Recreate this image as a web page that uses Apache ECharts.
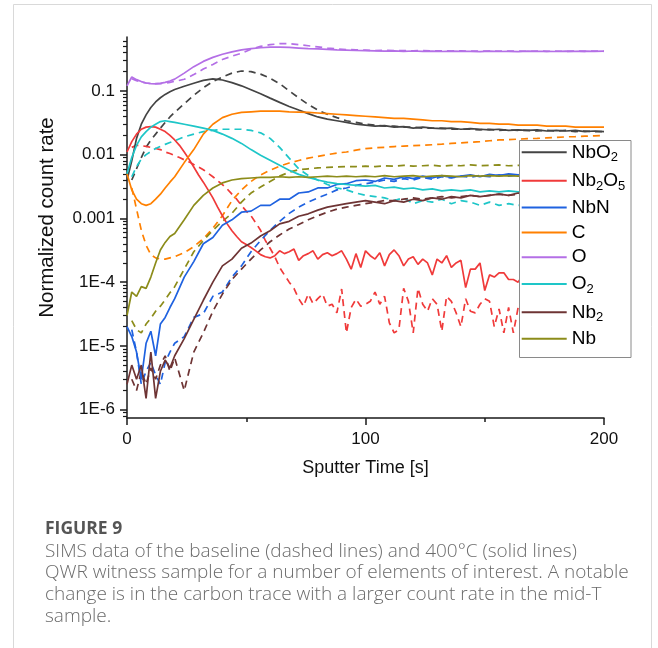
<!DOCTYPE html>
<html><head><meta charset="utf-8">
<script src="https://cdn.jsdelivr.net/npm/echarts@6/dist/echarts.min.js"></script>
<style>html,body{margin:0;padding:0;background:#fff}#c{width:658px;height:648px}</style>
</head><body><div id="c"></div>
<script>
// ---------- DATA ----------
const time = [0,2,4,6,8,10,12,14,16,18,20,24,28,32,36,40,44,48,52,56,60,64,68,72,76,80,84,88,92,96,100,104,108,112,116,120,124,128,132,136,140,144,148,152,156,160,164,168,172,176,180,184,188,192,196,200];
const timeRed = [0,2,4,6,8,10,12,14,16,18,20,22,24,26,28,30,32,34,36,38,40,42,44,46,48,50,52,54,56,58,60,62,64,66,68,70,72,74,76,78,80,82,84,86,88,90,92,94,96,98,100,102,104,106,108,110,112,114,116,118,120,122,124,126,128,130,132,134,136,138,140,142,144,146,148,150,152,154,156,158,160,162,164,166,168,170,172,174,176,178,180,182,184,186,188,190,192,194,196,198,200];

const names = ['NbO2','Nb2O5','NbN','C','O','O2','Nb2','Nb'];
const colors = ['#444444','#f03a3a','#1f62e0','#ff8000','#b46fe6','#1ec6c8','#6e3434','#8c8c1a'];
const xTickLabels = ['0','100','200'];
const yTickValues = [1e-6,1e-5,1e-4,1e-3,1e-2,1e-1];
const yTickLabels = ['1E-6','1E-5','1E-4','0.001','0.01','0.1'];

// 400 C sample (solid)
const nbo2Solid = [0.004,0.008,0.018,0.03,0.042,0.055,0.067,0.078,0.088,0.097,0.105,
 0.118,0.132,0.146,0.154,0.148, 0.135,0.12,0.104,0.09,0.077, 0.066,0.057,0.05,0.044,0.039,
 0.036,0.034,0.032,0.03,0.029, 0.028,0.0285,0.027,0.0275,0.026, 0.027,0.026,0.0255,0.026,0.025,
 0.0255,0.025,0.0245,0.025,0.024, 0.0245,0.024,0.0245,0.0235,0.024, 0.0235,0.024,0.023,0.0235,0.023];
const nbnSolid = [2e-5,1.4e-5,8e-6,3e-6,1.1e-5,1.7e-5,7e-6,2.2e-5,2.8e-5,4e-5,5.5e-5,
 1.2e-4,2.1e-4,4e-4,5e-4,7.8e-4, 9.5e-4,0.00125,0.0013,0.0016,0.0016, 0.002,0.002,0.0025,0.0026,0.003,
 0.003,0.0034,0.0035,0.0039,0.004, 0.0038,0.0043,0.0041,0.0045,0.0042, 0.0046,0.0043,0.0047,0.0044,0.0046,
 0.0048,0.0045,0.0049,0.0047,0.005, 0.0048,0.005,0.0049,0.0051,0.005, 0.0049,0.0051,0.005,0.005,0.0052];
const cSolid = [0.005,0.0028,0.002,0.0017,0.0016,0.0017,0.002,0.0024,0.003,0.0037,0.0045,
 0.0075,0.012,0.021,0.03,0.038, 0.043,0.046,0.047,0.048,0.048, 0.048,0.047,0.0465,0.046,0.045,
 0.044,0.043,0.042,0.041,0.04, 0.039,0.038,0.037,0.037,0.036, 0.035,0.034,0.034,0.033,0.033,
 0.032,0.031,0.031,0.03,0.03, 0.029,0.029,0.029,0.028,0.028, 0.028,0.027,0.027,0.027,0.027];
const oSolid = [0.12,0.165,0.15,0.14,0.133,0.13,0.129,0.131,0.136,0.143,0.153,
 0.19,0.24,0.29,0.335,0.375, 0.41,0.44,0.46,0.475,0.485, 0.485,0.48,0.47,0.46,0.455,
 0.447,0.44,0.435,0.43,0.428, 0.425,0.42,0.425,0.418,0.422, 0.416,0.42,0.415,0.42,0.416,
 0.418,0.414,0.42,0.415,0.418, 0.414,0.42,0.416,0.418,0.415, 0.42,0.417,0.42,0.418,0.42];
const o2Solid = [0.005,0.009,0.014,0.019,0.023,0.027,0.03,0.033,0.034,0.033,0.032,
 0.03,0.028,0.026,0.024,0.021, 0.018,0.015,0.012,0.0098,0.0082, 0.0068,0.0057,0.0049,0.0044,0.004,
 0.0037,0.0035,0.0034,0.0033,0.0032, 0.0033,0.003,0.0031,0.0029,0.003, 0.0028,0.0029,0.0027,0.0028,0.0027,
 0.0028,0.0026,0.0027,0.0026,0.0027, 0.0026,0.0027,0.0026,0.0027,0.0026, 0.0027,0.0026,0.0027,0.0026,0.0026];
const nb2Solid = [2.5e-6,5e-6,3e-6,5e-6,1.5e-6,8e-6,1.5e-6,4e-6,6e-6,4.5e-6,7e-6,
 1.3e-5,2.6e-5,5.2e-5,1e-4,1.8e-4, 2.3e-4,3.4e-4,4.1e-4,5.3e-4,6.4e-4, 8.2e-4,9e-4,0.00108,0.00118,0.00135,
 0.0015,0.0016,0.0017,0.0018,0.0019, 0.0018,0.0017,0.0019,0.0018,0.002, 0.0019,0.0021,0.002,0.0022,0.0021,
 0.0023,0.0022,0.0023,0.0024,0.0023, 0.0025,0.0024,0.0025,0.0024,0.0025, 0.0026,0.0025,0.0026,0.0025,0.0026];
const nbSolid = [3e-5,7e-5,6e-5,8.5e-5,8e-5,1.2e-4,2e-4,3.2e-4,4.2e-4,5.2e-4,5.8e-4,
 9.5e-4,0.0016,0.0023,0.003,0.0036, 0.004,0.0042,0.0043,0.0044,0.0044, 0.0045,0.0044,0.0045,0.0044,0.0045,
 0.0046,0.0045,0.0046,0.0045,0.0046, 0.0045,0.0047,0.0045,0.0046,0.0047, 0.0045,0.0046,0.0047,0.0046,0.0045,
 0.0047,0.0046,0.0047,0.0046,0.0047, 0.0046,0.0047,0.0046,0.0047,0.0046, 0.0047,0.0046,0.0047,0.0046,0.0047];
const nb2o5Solid = [0.011,0.016,0.021,0.025,0.027,0.0275,0.027,0.025,0.023,0.02,
 0.017,0.014,0.011,0.0085,0.0064,0.0048,0.0037,0.0028,0.0021,0.0015,
 0.0011,8.2e-4,6.4e-4,5.2e-4,4.3e-4,3.9e-4,3.5e-4,3.1e-4,2.7e-4,2.5e-4,
 2.4e-4,2.6e-4,3.1e-4,2.8e-4,3.0e-4,3.3e-4,2.2e-4,2.6e-4,2.8e-4,3.1e-4,
 2.3e-4,2.7e-4,2.9e-4,2.6e-4,2.8e-4,3.1e-4,2.3e-4,1.6e-4,2.8e-4,1.7e-4,
 3.1e-4,2.6e-4,2.3e-4,2.9e-4,1.8e-4,2.7e-4,3.2e-4,2.6e-4,1.8e-4,2.3e-4,
 2.5e-4,1.9e-4,2.3e-4,2.0e-4,1.3e-4,2.3e-4,2.0e-4,2.6e-4,1.7e-4,2.0e-4,
 2.2e-4,8.2e-5,1.6e-4,1.6e-4,2.0e-4,7.4e-5,1.3e-4,1.2e-4,1.4e-4,1.4e-4,
 1.1e-4,1.1e-4,1.0e-4,1.3e-4,1.5e-4,1.1e-4,1.0e-4,1.4e-4,1.6e-4,1.2e-4,
 1.1e-4,1.4e-4,1.3e-4,9e-5,1.2e-4,1.4e-4,1.3e-4,1.0e-4,1.2e-4,1.3e-4,
 1.2e-4];

// baseline sample (dashed)
const nbo2Base = [null,0.004,0.006,0.009,0.013,0.017,0.021,0.026,0.032,0.039,0.046,
 0.063,0.085,0.112,0.14,0.165, 0.19,0.205,0.2,0.183,0.158, 0.13,0.1,0.078,0.061,0.05,
 0.043,0.038,0.034,0.032,0.03, 0.029,0.028,0.028,0.027,0.027, 0.026,0.026,0.026,0.025,0.025,
 0.025,0.0245,0.025,0.024,0.0245, 0.024,0.024,0.0235,0.024,0.0235, 0.024,0.023,0.0235,0.023,0.023];
const nbnBase = [null,1.8e-5,8e-6,2.5e-6,4e-6,5.5e-6,3.5e-6,2.5e-6,5.5e-6,8e-6,1.1e-5,
 1.4e-5,2.8e-5,3.2e-5,6e-5,7e-5, 1.2e-4,1.8e-4,3e-4,4.5e-4,6.5e-4, 9e-4,0.0012,0.0015,0.0018,0.0021,
 0.0024,0.0028,0.003,0.0033,0.0035, 0.0037,0.004,0.0038,0.0042,0.004, 0.0044,0.0041,0.0045,0.0043,0.0046,
 0.0044,0.0047,0.0045,0.0048,0.0046, 0.0048,0.0047,0.0049,0.0048,0.005, 0.0048,0.005,0.0049,0.005,0.0049];
const cBase = [null,0.003,0.0014,6.5e-4,3.8e-4,2.7e-4,2.4e-4,2.3e-4,2.3e-4,2.4e-4,2.5e-4,
 2.9e-4,3.6e-4,4.8e-4,7e-4,0.0011, 0.0019,0.0028,0.0038,0.0048,0.0057, 0.0066,0.0074,0.0081,0.0088,0.0094,
 0.01,0.0106,0.011,0.0118,0.0124, 0.0128,0.013,0.0134,0.0136,0.0138, 0.014,0.0143,0.0146,0.015,0.0153,
 0.0156,0.016,0.0165,0.017,0.0172, 0.0175,0.0178,0.018,0.0183,0.0186, 0.019,0.0192,0.0195,0.0197,0.02];
const oBase = [null,0.155,0.145,0.138,0.133,0.13,0.13,0.13,0.132,0.136,0.141,
 0.152,0.18,0.22,0.26,0.31, 0.35,0.39,0.45,0.5,0.53, 0.55,0.55,0.53,0.51,0.49,
 0.47,0.455,0.445,0.44,0.435, 0.43,0.432,0.428,0.43,0.425, 0.428,0.424,0.426,0.422,0.425,
 0.42,0.423,0.42,0.422,0.42, 0.421,0.418,0.42,0.418,0.42, 0.417,0.42,0.418,0.42,0.418];
const o2Base = [null,0.0045,0.0065,0.0085,0.01,0.0112,0.0125,0.0135,0.0145,0.0155,0.0165,
 0.019,0.021,0.023,0.024,0.025, 0.025,0.025,0.024,0.022,0.018, 0.013,0.0088,0.006,0.0047,0.004,
 0.0034,0.003,0.0028,0.0025,0.0023, 0.0022,0.0021,0.0019,0.0021,0.0017, 0.0019,0.0018,0.002,0.0017,0.0019,
 0.0018,0.0016,0.0018,0.0016,0.0017, 0.0016,0.0017,0.0016,0.0018,0.0016, 0.0017,0.0016,0.0017,0.0016,0.0017];
const nb2Base = [null,3e-6,2e-6,4e-6,2.5e-6,4.5e-6,3e-6,5e-6,7e-6,4e-6,6.5e-6,
 2e-6,8e-6,1.6e-5,3.5e-5,6.5e-5, 1.1e-4,1.6e-4,2.3e-4,3.2e-4,4.3e-4, 5.5e-4,6.8e-4,8e-4,9.5e-4,0.0011,
 0.00125,0.0014,0.0015,0.0016,0.0017, 0.0018,0.0019,0.0019,0.002,0.0021, 0.002,0.0021,0.0022,0.0021,0.0022,
 0.0023,0.0022,0.0023,0.0024,0.0023, 0.0024,0.0024,0.0025,0.0024,0.0025, 0.0025,0.0024,0.0025,0.0025,0.0025];
const nbBase = [null,2.5e-5,1.8e-5,1.6e-5,2.2e-5,2.7e-5,3.5e-5,4.2e-5,5.3e-5,6.8e-5,8.5e-5,
 1.6e-4,3e-4,4.5e-4,6.5e-4,9e-4, 0.0012,0.0018,0.0025,0.0031,0.0038, 0.0046,0.0053,0.0058,0.006,0.0062,
 0.0063,0.0064,0.0065,0.0065,0.0066, 0.0065,0.0067,0.0066,0.0068,0.0066, 0.0067,0.0068,0.0066,0.0068,0.0067,
 0.0069,0.0067,0.0068,0.0069,0.0067, 0.0068,0.0069,0.0068,0.0069,0.0068, 0.0069,0.0068,0.0069,0.0068,0.0069];
const nb2o5Base = [null,0.013,0.014,0.0138,0.0135,0.013,0.0125,0.012,0.011,0.0104,
 0.0097,0.009,0.0083,0.0077,0.007,0.0064,0.0058,0.0051,0.0045,0.0039,
 0.0034,0.0029,0.0024,0.002,0.0016,0.0013,0.0011,8.5e-4,6.5e-4,4.5e-4,
 3.4e-4,2.5e-4,1.7e-4,1.3e-4,1.0e-4,8e-5,5.5e-5,4.2e-5,6.5e-5,4.6e-5,
 5.5e-5,6.5e-5,4.2e-5,4.5e-5,3.3e-5,7.8e-5,1.6e-5,4e-5,5.4e-5,4.2e-5,
 4.5e-5,5e-5,7e-5,4.5e-5,6e-5,2.3e-5,1.6e-5,1.8e-5,8e-5,5e-5,
 1.6e-5,8e-5,4.5e-5,3.5e-5,5.5e-5,4.5e-5,1.7e-5,6e-5,5e-5,3.3e-5,
 2e-5,5.5e-5,3.5e-5,3.3e-5,4.5e-5,5.5e-5,5e-5,2e-5,3.8e-5,1.6e-5,
 4e-5,1.6e-5,4e-5,3e-5,5e-5,2e-5,4.5e-5,3e-5,6e-5,2.5e-5,
 4e-5,3.5e-5,1.8e-5,5e-5,3e-5,4.5e-5,2.5e-5,5e-5,3.5e-5,4e-5,
 3e-5];

// ---------- CHART ----------
const FONT = 'Liberation Sans, Arial, sans-serif';
const CAPFONT = 'Open Sans, Lato, sans-serif';
const AX = '#1a1a1a';
const yMin = 7.4e-7, yMax = 0.7;
const solidSets = [nbo2Solid, nb2o5Solid, nbnSolid, cSolid, oSolid, o2Solid, nb2Solid, nbSolid];
const baseSets  = [nbo2Base, nb2o5Base, nbnBase, cBase, oBase, o2Base, nb2Base, nbBase];
const timeSets  = [time, timeRed, time, time, time, time, time, time];

function pairs(t, v) {
  const out = [];
  for (let i = 0; i < t.length; i++) if (v[i] != null) out.push([t[i], v[i]]);
  return out;
}
const yMinor = [];
for (let e = -7; e <= -1; e++) for (let m = 2; m <= 9; m++) {
  const v = m * Math.pow(10, e);
  if (v > yMin && v <= yMax + 1e-9) yMinor.push(v);
}

const series = [];
names.forEach((n, i) => {
  series.push({ name: n + ' baseline', type: 'line', symbol: 'none', silent: true,
    data: pairs(timeSets[i], baseSets[i]),
    lineStyle: { color: colors[i], width: 1.7, type: [7, 5] }, itemStyle: { color: colors[i] }, z: 2 });
});
names.forEach((n, i) => {
  series.push({ name: n, type: 'line', symbol: 'none', silent: true,
    data: pairs(timeSets[i], solidSets[i]),
    lineStyle: { color: colors[i], width: 1.7 }, itemStyle: { color: colors[i] }, z: 2 });
});

const legendLineY = [153.3, 181.7, 211, 236, 260.7, 285, 313.3, 342.3];
const legends = names.map((n, i) => ({
  data: [n], orient: 'vertical', left: 521.7, top: legendLineY[i] - 13,
  icon: 'rect', itemWidth: 45, itemHeight: 2, padding: 0, itemGap: 0, selectedMode: false,
  formatter: (name) => '{n|' + name.replace(/(\d)/g, '}{s|$1}{n|') + '}',
  textStyle: { color: '#000', fontFamily: FONT,
    rich: { n: { fontSize: 19, lineHeight: 26, fontFamily: FONT, color: '#000' },
            s: { fontSize: 13, lineHeight: 13, padding: [11, 0, 0, 0], fontFamily: FONT, color: '#000' } } }
}));

const chart = echarts.init(document.getElementById('c'), null, { renderer: 'canvas' });
chart.setOption({
  animation: false,
  backgroundColor: '#fff',
  grid: { left: 127, top: 37, width: 477, height: 381, containLabel: false },
  xAxis: {
    type: 'value', min: 0, max: 200, interval: 100,
    axisLine: { onZero: false, lineStyle: { color: AX, width: 1.5 } },
    axisTick: { length: 7, lineStyle: { color: AX, width: 1.5 } },
    minorTick: { show: true, splitNumber: 2, length: 4, lineStyle: { color: AX, width: 1.5 } },
    splitLine: { show: false }, minorSplitLine: { show: false },
    axisLabel: { fontSize: 17, color: '#111', margin: 13, fontFamily: FONT,
      formatter: (v) => xTickLabels[Math.round(v / 100)] },
    name: 'Sputter Time [s]', nameLocation: 'middle', nameGap: 41,
    nameTextStyle: { fontSize: 18, color: '#111', fontFamily: FONT }
  },
  yAxis: [{
    type: 'log', logBase: 10, min: yMin, max: yMax, position: 'left',
    axisLine: { show: true, onZero: false, lineStyle: { color: AX, width: 1.5 } },
    axisTick: { show: true, length: 7, customValues: yTickValues, lineStyle: { color: AX, width: 1.5 } },
    axisLabel: { customValues: yTickValues, fontSize: 17, color: '#111', margin: 12, fontFamily: FONT,
      formatter: (v) => yTickLabels[Math.round(Math.log10(v)) + 6] },
    splitLine: { show: false }, minorTick: { show: false },
    name: 'Normalized count rate', nameLocation: 'middle', nameGap: 69,
    nameTextStyle: { fontSize: 20.5, color: '#111', fontFamily: FONT, padding: [0, 0, 0, 20] }
  }, {
    type: 'log', logBase: 10, min: yMin, max: yMax, position: 'left',
    axisLine: { show: false },
    axisTick: { show: true, length: 4, customValues: yMinor, lineStyle: { color: AX, width: 1.2 } },
    axisLabel: { show: false }, splitLine: { show: false }
  }],
  legend: legends,
  series: series,
  graphic: { elements: [
    { type: 'rect', shape: { x: 13.5, y: 4.5, width: 638, height: 700 },
      style: { fill: 'none', stroke: '#d9d9d9', lineWidth: 1 }, z: 0, silent: true },
    { type: 'rect', shape: { x: 519.5, y: 140.5, width: 111.5, height: 217 },
      style: { fill: '#fff', stroke: '#8a8a8a', lineWidth: 1 }, z: 3, silent: true },
    { type: 'text', left: 45, top: 520, silent: true,
      style: { text: 'FIGURE 9', fontSize: 17.5, fontWeight: 'bold', fontFamily: CAPFONT, fill: '#555' } },
    { type: 'text', left: 45, top: 540.5, silent: true,
      style: { text: 'SIMS data of the baseline (dashed lines) and 400\u00B0C (solid lines)\nQWR witness sample for a number of elements of interest. A notable\nchange is in the carbon trace with a larger count rate in the mid-T\nsample.',
        fontSize: 19, lineHeight: 21.7, fontWeight: 300, fontFamily: CAPFONT, fill: '#6b6b6b' } }
  ] }
});
</script>
</body></html>
